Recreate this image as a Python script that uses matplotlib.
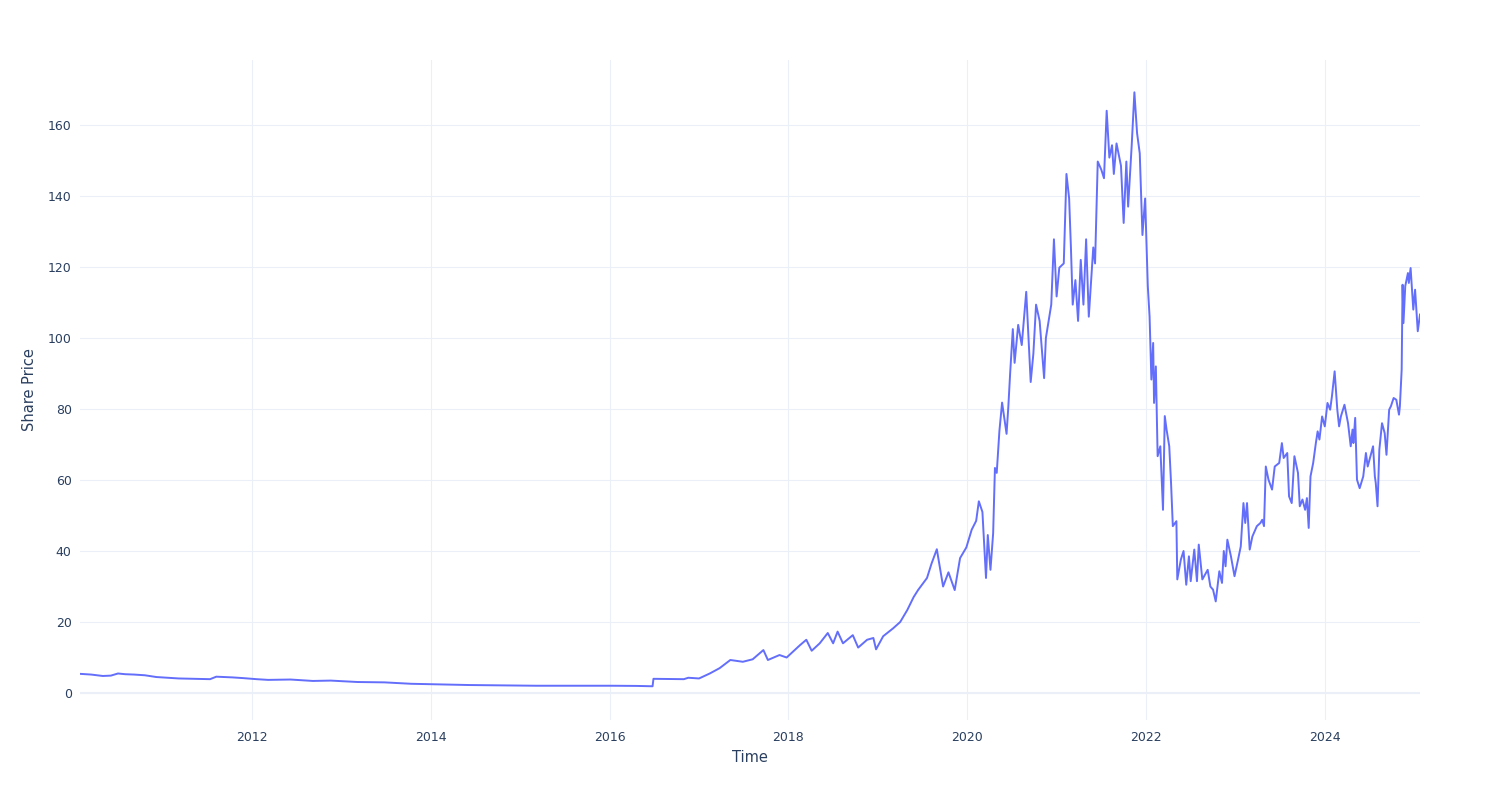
import matplotlib
matplotlib.use("Agg")
import matplotlib.pyplot as plt

# decimal-year time stamps and share prices
years = [
    2010.075, 2010.2, 2010.33, 2010.42, 2010.5, 2010.58, 2010.68, 2010.8, 2010.93,
    2011.05, 2011.18, 2011.35, 2011.53, 2011.6, 2011.7, 2011.78, 2011.9, 2012.05,
    2012.18, 2012.43, 2012.68, 2012.88, 2013.18, 2013.48, 2013.78, 2014.08, 2014.43,
    2014.78, 2015.18, 2015.68, 2016.03, 2016.3, 2016.48, 2016.49, 2016.83, 2016.88,
    2017.0, 2017.12, 2017.23, 2017.35, 2017.49, 2017.6, 2017.72, 2017.77, 2017.9,
    2017.98, 2018.13, 2018.2, 2018.26, 2018.35, 2018.44, 2018.5, 2018.55, 2018.61,
    2018.72, 2018.78, 2018.88, 2018.95, 2018.98, 2019.06, 2019.17, 2019.25, 2019.33,
    2019.4, 2019.45, 2019.55, 2019.6, 2019.66, 2019.73, 2019.79, 2019.86, 2019.92,
    2019.99, 2020.05, 2020.1, 2020.13, 2020.17, 2020.21, 2020.23, 2020.26, 2020.29,
    2020.31, 2020.33, 2020.36, 2020.39, 2020.44, 2020.46, 2020.48, 2020.51, 2020.53,
    2020.57, 2020.61, 2020.66, 2020.71, 2020.74, 2020.77, 2020.81, 2020.86, 2020.88,
    2020.94, 2020.97, 2021.0, 2021.03, 2021.08, 2021.11, 2021.14, 2021.16, 2021.18,
    2021.21, 2021.24, 2021.27, 2021.3, 2021.33, 2021.36, 2021.41, 2021.43, 2021.46,
    2021.5, 2021.53, 2021.56, 2021.59, 2021.62, 2021.64, 2021.67, 2021.72, 2021.75,
    2021.78, 2021.8, 2021.84, 2021.87, 2021.9, 2021.93, 2021.96, 2021.99, 2022.02,
    2022.04, 2022.06, 2022.08, 2022.09, 2022.11, 2022.13, 2022.16, 2022.19, 2022.21,
    2022.23, 2022.26, 2022.28, 2022.3, 2022.34, 2022.35, 2022.39, 2022.42, 2022.45,
    2022.48, 2022.5, 2022.54, 2022.57, 2022.59, 2022.63, 2022.69, 2022.72, 2022.75,
    2022.78, 2022.82, 2022.85, 2022.87, 2022.89, 2022.91, 2022.95, 2022.99, 2023.03,
    2023.06, 2023.09, 2023.11, 2023.13, 2023.16, 2023.19, 2023.24, 2023.28, 2023.3,
    2023.32, 2023.34, 2023.37, 2023.41, 2023.44, 2023.49, 2023.52, 2023.54, 2023.58,
    2023.6, 2023.63, 2023.66, 2023.7, 2023.72, 2023.75, 2023.78, 2023.8, 2023.82,
    2023.84, 2023.87, 2023.9, 2023.92, 2023.94, 2023.97, 2024.0, 2024.03, 2024.06,
    2024.08, 2024.11, 2024.14, 2024.16, 2024.18, 2024.22, 2024.26, 2024.29, 2024.31,
    2024.32, 2024.34, 2024.36, 2024.39, 2024.43, 2024.46, 2024.48, 2024.51, 2024.54,
    2024.56, 2024.57, 2024.59, 2024.61, 2024.64, 2024.67, 2024.69, 2024.72, 2024.74,
    2024.77, 2024.8, 2024.83, 2024.84, 2024.86, 2024.87, 2024.88, 2024.9, 2024.93,
    2024.94, 2024.96, 2024.99, 2025.01, 2025.04, 2025.065,
]
prices = [
    5.4, 5.2, 4.8, 4.9, 5.5, 5.3, 5.2, 5.0, 4.5,
    4.3, 4.1, 4.0, 3.9, 4.6, 4.5, 4.4, 4.2, 3.9,
    3.7, 3.8, 3.4, 3.5, 3.1, 3.0, 2.6, 2.45, 2.25,
    2.15, 2.05, 2.05, 2.05, 2.0, 1.9, 4.0, 3.9, 4.3,
    4.1, 5.5, 7.0, 9.3, 8.8, 9.5, 12.1, 9.3, 10.7,
    10.0, 13.5, 15.0, 11.9, 14.0, 16.9, 14.0, 17.3, 14.0,
    16.3, 12.8, 15.0, 15.5, 12.3, 16.0, 18.2, 20.0, 23.4,
    27.0, 29.0, 32.4, 36.4, 40.5, 30.0, 34.0, 29.0, 38.0,
    41.0, 46.0, 48.5, 54.0, 51.0, 32.4, 44.5, 34.7, 45.0,
    63.4, 62.0, 73.8, 81.8, 73.0, 80.7, 90.0, 102.5, 93.0,
    103.7, 98.0, 113.0, 87.6, 95.6, 109.4, 104.8, 88.7, 100.0,
    109.4, 127.8, 111.7, 119.8, 121.0, 146.2, 139.3, 125.5, 109.4,
    116.3, 104.8, 122.0, 109.4, 127.8, 106.0, 125.5, 121.0, 149.7,
    147.4, 145.0, 164.0, 150.8, 154.3, 146.2, 154.8, 148.5, 132.4,
    149.7, 137.0, 154.3, 169.2, 157.7, 152.0, 129.0, 139.3, 114.6,
    106.0, 88.3, 98.6, 81.7, 92.0, 66.7, 69.5, 51.6, 78.0,
    74.2, 69.5, 59.2, 47.0, 48.4, 32.0, 37.6, 40.0, 30.5,
    38.5, 31.5, 40.4, 31.5, 41.8, 32.0, 34.7, 30.0, 29.1,
    25.8, 34.3, 31.0, 40.0, 35.7, 43.2, 38.5, 32.9, 37.6,
    41.3, 53.5, 47.9, 53.5, 40.4, 44.1, 47.0, 47.9, 48.8,
    47.0, 63.8, 60.1, 57.3, 63.8, 64.8, 70.4, 66.2, 67.6,
    55.4, 53.5, 66.7, 62.0, 52.6, 54.5, 51.6, 54.9, 46.5,
    61.0, 64.8, 70.4, 73.7, 71.4, 77.9, 75.1, 81.7, 79.8,
    83.6, 90.6, 79.8, 75.1, 77.9, 81.2, 76.0, 69.5, 74.2,
    70.4, 77.5, 60.1, 57.7, 61.0, 67.6, 63.8, 66.7, 69.5,
    61.0, 59.2, 52.6, 68.5, 76.0, 73.2, 67.1, 79.8, 80.8,
    83.1, 82.6, 78.4, 80.8, 91.1, 115.0, 104.2, 114.6, 118.3,
    115.5, 119.7, 108.0, 113.6, 101.9, 106.6,
]

x_ticks = [2012, 2014, 2016, 2018, 2020, 2022, 2024]
x_tick_labels = ["2012", "2014", "2016", "2018", "2020", "2022", "2024"]
y_ticks = [0, 20, 40, 60, 80, 100, 120, 140, 160]

TEXT = "#2a3f5f"
GRID = "#EBF0F8"

fig = plt.figure(figsize=(15, 8), dpi=100)
ax = fig.add_axes([80 / 1500, 80 / 800, 1340 / 1500, 660 / 800])

ax.plot(years, prices, color="#636EFA", lw=1.4, zorder=3)

ax.set_xlim(years[0], years[-1])
ax.set_ylim(-7.6, 178.3)
ax.set_xticks(x_ticks)
ax.set_xticklabels(x_tick_labels)
ax.set_yticks(y_ticks)

ax.grid(True, color=GRID, lw=0.75, zorder=0)
ax.axhline(0, color=GRID, lw=1.5, zorder=1)
for s in ax.spines.values():
    s.set_visible(False)
ax.tick_params(axis="both", length=0, colors=TEXT, labelsize=9)
ax.tick_params(axis="y", pad=6)
ax.tick_params(axis="x", pad=8)
ax.set_xlabel("Time", color=TEXT, fontsize=10.5, labelpad=4)
ax.set_ylabel("Share Price", color=TEXT, fontsize=10.5, labelpad=8)

fig.savefig("out.png", dpi=100, facecolor="white")
